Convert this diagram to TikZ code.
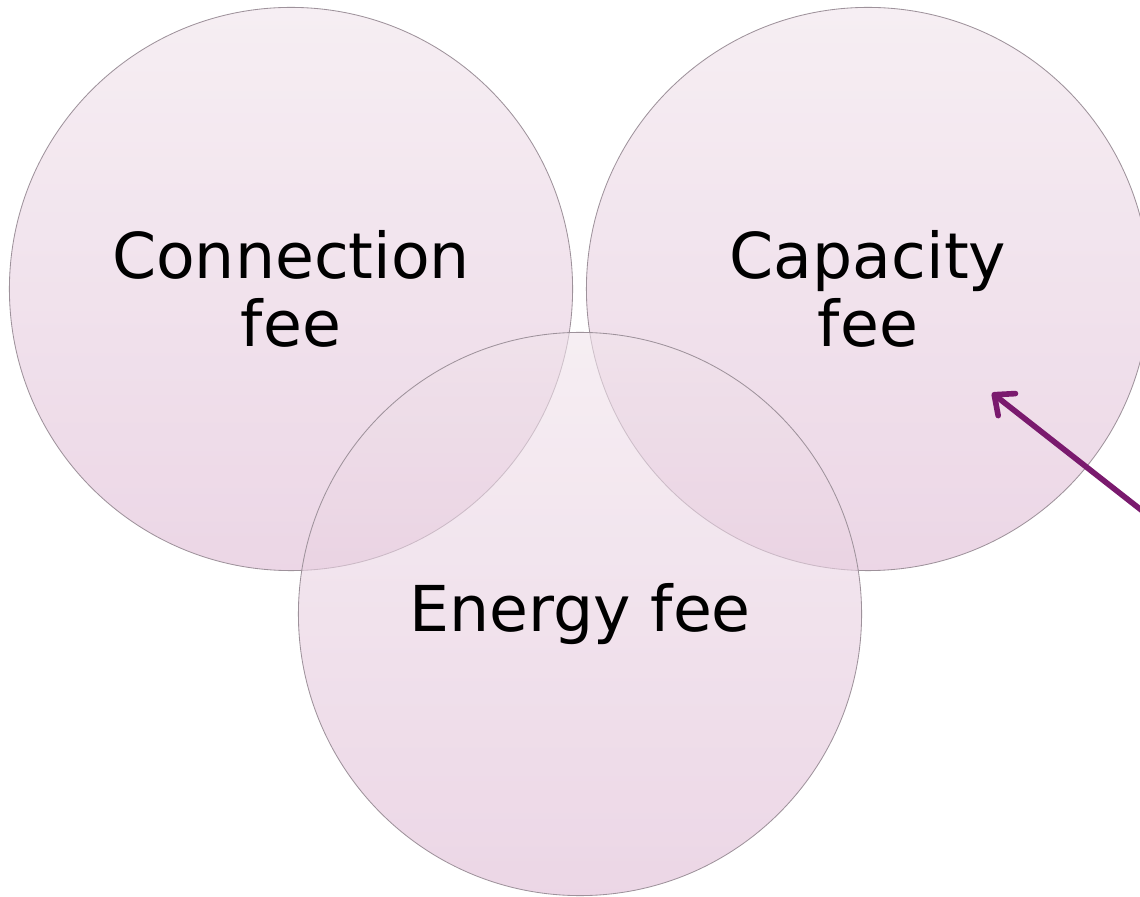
\documentclass[tikz,border=0pt]{standalone}
\usepackage{fontspec}
\setmainfont{DejaVu Sans}
\usetikzlibrary{arrows.meta, calc}

\definecolor{feetop}{RGB}{240,227,235}
\definecolor{feebottom}{RGB}{223,187,213}
\definecolor{feeedge}{RGB}{158,146,155}
\definecolor{feearrow}{RGB}{122,26,110}

\tikzset{
    feecircle/.style={circle, draw=feeedge, line width=0.6pt, minimum size=14.08cm,
        top color=feetop, bottom color=feebottom, fill opacity=0.6, text opacity=1,
        align=center, font=\fontsize{45}{48}\selectfont, inner sep=0pt},
    pointer/.style={draw=feearrow, line width=4pt, line cap=round,
        -{Straight Barb[length=4mm, width=7mm, round]}}
}

\begin{document}
\begin{tikzpicture}[]
    \useasboundingbox (0, 0) rectangle (28.5, 22.4);
    \node[feecircle] (conn) at (7.275, 15.175) {Connection\\fee};
    \node[feecircle] (cap) at (21.7, 15.175) {Capacity\\fee};
    \node[feecircle] (energy) at (14.5, 7.05) {Energy fee};
    % arrow coming in from the right edge
    \coordinate (tail) at (29.2, 9.125);
    \coordinate (tip) at ($(cap.center) + (3.1, -2.6)$);
    \draw[pointer] (tail) -- (tip);
\end{tikzpicture}
\end{document}
